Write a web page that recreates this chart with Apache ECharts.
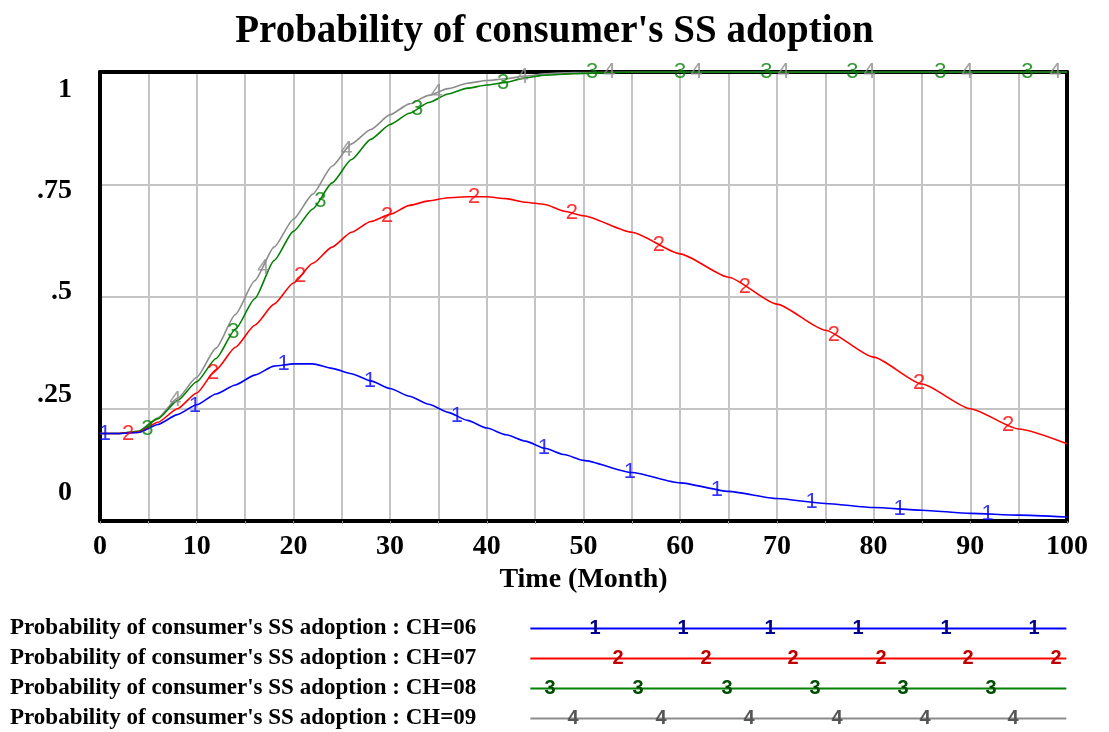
<!DOCTYPE html>
<html>
<head>
<meta charset="utf-8">
<script src="https://cdn.jsdelivr.net/npm/echarts@6/dist/echarts.min.js"></script>
<style>
  html, body { margin: 0; padding: 0; background: #fff; }
  #chart { width: 1109px; height: 732px; }
</style>
</head>
<body>
<div id="chart"></div>
<script>
// time (month)
var months = [0, 2, 4, 6, 8, 10, 12, 14, 16, 18,
  20, 22, 24, 26, 28, 30, 32, 34, 36, 38, 40, 42, 44, 46, 48, 50,
  55, 60, 65, 70, 75, 80, 85, 90, 95, 100];

// probability of consumer's SS adoption for each CH run
var ch06 = [0.195, 0.195, 0.197, 0.215, 0.237, 0.259, 0.283, 0.303, 0.325, 0.345,
  0.350, 0.350, 0.340, 0.328, 0.312, 0.295, 0.278, 0.260, 0.242, 0.224, 0.207, 0.192, 0.178, 0.162, 0.148, 0.135,
  0.108, 0.085, 0.066, 0.050, 0.039, 0.030, 0.024, 0.017, 0.013, 0.009];
var ch07 = [0.195, 0.195, 0.198, 0.220, 0.250, 0.285, 0.337, 0.387, 0.436, 0.483,
  0.530, 0.574, 0.610, 0.643, 0.667, 0.683, 0.703, 0.713, 0.720, 0.722, 0.722, 0.718, 0.710, 0.705, 0.690, 0.680,
  0.643, 0.595, 0.543, 0.483, 0.425, 0.365, 0.305, 0.250, 0.205, 0.172];
var ch08 = [0.195, 0.195, 0.200, 0.228, 0.268, 0.310, 0.362, 0.427, 0.495, 0.580,
  0.645, 0.695, 0.753, 0.805, 0.850, 0.883, 0.908, 0.932, 0.951, 0.964, 0.971, 0.977, 0.987, 0.993, 0.995, 0.997,
  1, 1, 1, 1, 1, 1, 1, 1, 1, 1];
var ch09 = [0.195, 0.195, 0.200, 0.230, 0.273, 0.320, 0.385, 0.460, 0.535, 0.610,
  0.672, 0.728, 0.790, 0.840, 0.872, 0.905, 0.929, 0.948, 0.963, 0.975, 0.981, 0.985, 0.991, 0.996, 0.998, 0.999,
  1, 1, 1, 1, 1, 1, 1, 1, 1, 1];

// numbered markers on the curves [month, value]
var marks06 = [[0.5, 0.195], [9.8, 0.257], [19, 0.35], [27.9, 0.313], [36.9, 0.233], [45.9, 0.163],
  [54.8, 0.109], [63.8, 0.07], [73.6, 0.042], [82.7, 0.027], [91.8, 0.015]];
var marks07 = [[2.9, 0.195], [11.7, 0.33], [20.7, 0.545], [29.7, 0.68], [38.7, 0.722], [48.8, 0.687],
  [57.8, 0.615], [66.7, 0.522], [75.9, 0.415], [84.7, 0.308], [93.9, 0.215]];
var marks08 = [[4.9, 0.205], [13.8, 0.42], [22.8, 0.712], [32.8, 0.917], [41.7, 0.975], [50.9, 1],
  [60, 1], [68.9, 1], [77.8, 1], [86.9, 1], [95.9, 1]];
var marks09 = [[7.8, 0.27], [16.9, 0.563], [25.5, 0.826], [34.8, 0.953], [43.7, 0.99], [52.7, 1],
  [61.7, 1], [70.7, 1], [79.6, 1], [89.7, 1], [98.8, 1]];

var names = [
  "Probability of consumer's SS adoption : CH=06",
  "Probability of consumer's SS adoption : CH=07",
  "Probability of consumer's SS adoption : CH=08",
  "Probability of consumer's SS adoption : CH=09"
];
var yLabels = ['0', '.25', '.5', '.75', '1'];
var colors = ['#0000ff', '#ff0000', '#008000', '#8c8c8c'];
var legendColors = ['#00008b', '#c00000', '#004d00', '#555555'];

var serif = '"Liberation Serif", "Times New Roman", serif';
var sans = '"Liberation Sans", Arial, sans-serif';

var myChart = echarts.init(document.getElementById('chart'));

function pairs(vals) {
  return months.map(function (m, i) { return [m, vals[i]]; });
}

function lineSeries(i, vals) {
  return {
    name: names[i],
    type: 'line',
    data: pairs(vals),
    showSymbol: false,
    smooth: 0.2,
    smoothMonotone: 'x',
    lineStyle: { color: colors[i], width: 1.6 },
    itemStyle: { color: colors[i] },
    z: 3
  };
}

function markSeries(i, marks) {
  return {
    name: 'mark' + (i + 1),
    type: 'scatter',
    data: marks,
    symbolSize: 2,
    silent: true,
    itemStyle: { color: 'rgba(0,0,0,0)' },
    label: {
      show: true,
      position: 'inside',
      formatter: String(i + 1),
      color: colors[i],
      fontSize: 22,
      fontFamily: sans
    },
    z: 5
  };
}

// legend line digits (decoration on the legend samples)
var legendRows = [628, 658, 688, 718];
var legendDigitX = [
  [595, 683, 770, 858, 946, 1034],
  [618, 706, 793, 881, 968, 1056],
  [550, 638, 727, 815, 903, 991],
  [573, 661, 749, 837, 925, 1013]
];
var graphics = [];
legendDigitX.forEach(function (xs, r) {
  xs.forEach(function (x) {
    graphics.push({
      type: 'text',
      x: x,
      y: legendRows[r],
      style: {
        text: String(r + 1),
        fill: legendColors[r],
        font: 'bold 20px ' + sans,
        align: 'center',
        verticalAlign: 'middle'
      },
      z: 10
    });
  });
});

var frameLine = { show: true, onZero: false, lineStyle: { color: '#000', width: 4 } };

var option = {
  animation: false,
  backgroundColor: '#fff',
  title: {
    text: "Probability of consumer's SS adoption",
    left: 'center',
    top: 7,
    textStyle: { fontFamily: serif, fontWeight: 'bold', fontSize: 39, color: '#000' }
  },
  legend: {
    orient: 'vertical',
    left: 10,
    top: 617,
    padding: 0,
    align: 'right',
    icon: 'rect',
    itemWidth: 536,
    itemHeight: 2,
    itemGap: 7,
    data: names,
    selectedMode: false,
    formatter: function (name) { return '{t|' + name + '}'; },
    textStyle: {
      fontFamily: serif,
      fontWeight: 'bold',
      fontSize: 23,
      lineHeight: 20,
      color: '#000',
      rich: {
        t: {
          fontFamily: serif,
          fontWeight: 'bold',
          fontSize: 23,
          lineHeight: 20,
          color: '#000',
          padding: [0, 49, 0, 0]
        }
      }
    }
  },
  graphic: graphics,
  grid: {
    left: 100,
    right: 42,
    top: 72,
    bottom: 211
  },
  xAxis: [{
    type: 'value',
    min: 0,
    max: 100,
    interval: 5,
    name: 'Time (Month)',
    nameLocation: 'middle',
    nameGap: 45,
    nameTextStyle: { fontFamily: serif, fontWeight: 'bold', fontSize: 28, color: '#000' },
    axisLine: frameLine,
    axisTick: { show: true, length: 3, lineStyle: { color: '#999' } },
    axisLabel: {
      margin: 12,
      fontFamily: serif,
      fontWeight: 'bold',
      fontSize: 28,
      color: '#000',
      formatter: function (v) { return v % 10 === 0 ? String(v) : ''; }
    },
    splitLine: { show: true, lineStyle: { color: '#c4c4c4', width: 2 } }
  }, {
    type: 'value',
    position: 'top',
    min: 0,
    max: 100,
    interval: 5,
    axisLine: frameLine,
    axisTick: { show: false },
    axisLabel: { show: false },
    splitLine: { show: false }
  }],
  yAxis: [{
    type: 'value',
    min: 0,
    max: 1,
    interval: 0.25,
    axisLine: frameLine,
    axisTick: { show: false },
    axisLabel: {
      margin: 28,
      fontFamily: serif,
      fontWeight: 'bold',
      fontSize: 28,
      color: '#000',
      formatter: function (v) {
        var k = Math.round(v * 4);
        return '{p' + k + '|' + yLabels[k] + '}';
      },
      rich: {
        p0: { fontFamily: serif, fontWeight: 'bold', fontSize: 28, color: '#000', padding: [0, 0, 56, 0] },
        p1: { fontFamily: serif, fontWeight: 'bold', fontSize: 28, color: '#000', padding: [0, 0, 28, 0] },
        p2: { fontFamily: serif, fontWeight: 'bold', fontSize: 28, color: '#000', padding: [0, 0, 10, 0] },
        p3: { fontFamily: serif, fontWeight: 'bold', fontSize: 28, color: '#000', padding: [14, 0, 0, 0] },
        p4: { fontFamily: serif, fontWeight: 'bold', fontSize: 28, color: '#000', padding: [36, 0, 0, 0] }
      }
    },
    splitLine: { show: true, lineStyle: { color: '#c4c4c4', width: 2 } }
  }, {
    type: 'value',
    position: 'right',
    min: 0,
    max: 1,
    interval: 0.25,
    axisLine: frameLine,
    axisTick: { show: false },
    axisLabel: { show: false },
    splitLine: { show: false }
  }],
  series: [
    lineSeries(3, ch09),
    lineSeries(2, ch08),
    lineSeries(1, ch07),
    lineSeries(0, ch06),
    markSeries(3, marks09),
    markSeries(2, marks08),
    markSeries(1, marks07),
    markSeries(0, marks06)
  ]
};

myChart.setOption(option);
window.addEventListener('resize', myChart.resize);
</script>
</body>
</html>
